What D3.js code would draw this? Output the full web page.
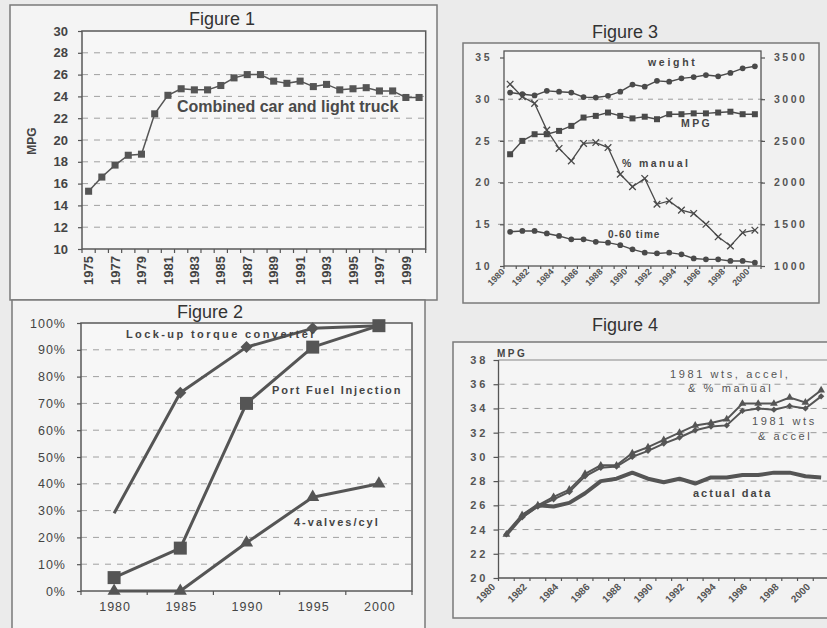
<!DOCTYPE html>
<html><head><meta charset="utf-8">
<script src="https://cdn.jsdelivr.net/npm/d3@7"></script>
<style>
html,body{margin:0;padding:0;background:#ebebeb;}
svg{display:block;}
</style></head><body>
<svg id="c" width="827" height="628"></svg>
<script>
// ================= DATA =================
// Figure 1
const fig1Years = [1975,1976,1977,1978,1979,1980,1981,1982,1983,1984,1985,1986,1987,1988,1989,1990,1991,1992,1993,1994,1995,1996,1997,1998,1999,2000];
const fig1Mpg = [15.3,16.6,17.7,18.6,18.7,22.4,24.1,24.7,24.6,24.6,25.0,25.7,26.0,26.0,25.4,25.2,25.4,24.9,25.1,24.6,24.7,24.8,24.5,24.5,23.9,23.9];
const fig1YTicks = [10,12,14,16,18,20,22,24,26,28,30];
const fig1XLabels = [1975,1977,1979,1981,1983,1985,1987,1989,1991,1993,1995,1997,1999];

// Figure 2
const fig2Years = ["1980","1985","1990","1995","2000"];
const fig2Lockup = [29,74,91,98,99];
const fig2PortFuel = [5,16,70,91,99];
const fig2Valves = [0,0,18,35,40];
const fig2YTicks = [0,10,20,30,40,50,60,70,80,90,100];

// Figure 3
const fig3Years = [1981,1982,1983,1984,1985,1986,1987,1988,1989,1990,1991,1992,1993,1994,1995,1996,1997,1998,1999,2000,2001];
const fig3Weight = [3080,3060,3045,3100,3090,3080,3025,3020,3040,3090,3175,3150,3220,3210,3250,3265,3290,3275,3315,3370,3395];
const fig3Mpg = [23.4,25.0,25.8,25.8,26.2,26.8,27.8,28.0,28.4,28.0,27.7,27.9,27.6,28.2,28.2,28.3,28.3,28.4,28.5,28.2,28.2];
const fig3Manual = [31.8,30.3,29.5,26.3,24.1,22.6,24.7,24.8,24.2,21.0,19.5,20.5,17.4,17.8,16.7,16.3,15.0,13.5,12.4,14.0,14.3];
const fig3Accel = [14.1,14.2,14.2,13.9,13.6,13.2,13.2,12.9,12.8,12.5,12.0,11.6,11.5,11.6,11.4,10.9,10.8,10.8,10.6,10.6,10.4];
const fig3LeftTicks = [10,15,20,25,30,35];
const fig3RightTicks = [1000,1500,2000,2500,3000,3500];
const fig3XLabels = [1980,1982,1984,1986,1988,1990,1992,1994,1996,1998,2000];

// Figure 4
const fig4Years = [1981,1982,1983,1984,1985,1986,1987,1988,1989,1990,1991,1992,1993,1994,1995,1996,1997,1998,1999,2000,2001];
const fig4Actual = [23.6,25.1,26.0,25.9,26.2,27.0,28.0,28.2,28.7,28.2,27.9,28.2,27.8,28.3,28.3,28.5,28.5,28.7,28.7,28.4,28.3];
const fig4AllThree = [23.6,25.2,26.0,26.7,27.3,28.6,29.3,29.3,30.3,30.8,31.4,32.0,32.6,32.8,33.1,34.4,34.4,34.4,34.9,34.5,35.5];
const fig4WtsAccel = [23.6,25.0,25.9,26.5,27.1,28.4,29.1,29.2,30.0,30.5,31.1,31.6,32.2,32.5,32.6,33.8,34.0,33.9,34.2,34.0,35.0];
const fig4YTicks = [20,22,24,26,28,30,32,34,36,38];
const fig4XLabels = [1980,1982,1984,1986,1988,1990,1992,1994,1996,1998,2000];

// ================= DRAWING =================
const FONT = '"Liberation Sans", Arial, Helvetica, sans-serif';
const svg = d3.select("#c").attr("font-family", FONT);
svg.append("rect").attr("width", 827).attr("height", 628).attr("fill", "#ebebeb");

function panel(x, y, w, h, fill) {
  return svg.append("rect").attr("x", x).attr("y", y).attr("width", w).attr("height", h)
    .attr("fill", fill).attr("stroke", "#7a7a7a").attr("stroke-width", 1.5);
}
function label(g, x, y, str, o) {
  o = o || {};
  const t = g.append("text").attr("x", x).attr("y", y).text(str)
    .attr("font-size", o.size || 12).attr("font-weight", o.weight || "normal")
    .attr("fill", o.fill || "#444").attr("text-anchor", o.anchor || "start");
  if (o.ls) t.attr("letter-spacing", o.ls);
  return t;
}
function styleAxis(a, size, weight, fill, ls) {
  a.attr("font-family", FONT).attr("font-size", size);
  a.select(".domain").remove();
  a.selectAll(".tick line").attr("stroke", "#555").attr("stroke-width", 1.2);
  const t = a.selectAll(".tick text").attr("fill", fill).attr("font-weight", weight);
  if (ls) t.attr("letter-spacing", ls);
}
function markers(g, vals, xf, yf, type, size, color) {
  const sym = d3.symbol().type(type).size(size);
  g.selectAll(null).data(vals).join("path")
    .attr("d", sym)
    .attr("transform", (d, i) => `translate(${xf(i)},${yf(d)})`)
    .attr("fill", color);
}
function diamonds(g, vals, xf, yf, size, color) {
  const sym = d3.symbol().type(d3.symbolSquare).size(size);
  g.selectAll(null).data(vals).join("path").attr("d", sym)
    .attr("transform", (d, i) => `translate(${xf(i)},${yf(d)}) rotate(45)`).attr("fill", color);
}
function crosses(g, vals, xf, yf, r, color) {
  g.selectAll(null).data(vals).join("path")
    .attr("d", (d, i) => {
      const x = xf(i), y = yf(d);
      return `M${x-r},${y-r}L${x+r},${y+r}M${x-r},${y+r}L${x+r},${y-r}`;
    }).attr("stroke", color).attr("stroke-width", 1.3).attr("fill", "none");
}
function bottomTicks(g, xs, y, len) {
  g.selectAll(null).data(xs).join("line").attr("x1", d => d).attr("x2", d => d)
    .attr("y1", y).attr("y2", y + len).attr("stroke", "#555").attr("stroke-width", 1.2);
}

// ---------- Figure 1 ----------
panel(10, 5, 427, 295, "#f4f4f4");
{
  const g = svg.append("g");
  const L = 82, R = 425.7, T = 31, B = 249;
  const x = d3.scaleBand().domain(fig1Years).range([L, R]);
  const y = d3.scaleLinear().domain([10, 30]).range([B, T]);
  const cx = i => x(fig1Years[i]) + x.bandwidth() / 2;
  g.append("rect").attr("x", L).attr("y", T).attr("width", R - L).attr("height", B - T).attr("fill", "#f7f7f7");
  g.selectAll(null).data(fig1YTicks.filter(t => t > 10 && t < 30)).join("line")
    .attr("x1", L).attr("x2", R).attr("y1", d => y(d)).attr("y2", d => y(d))
    .attr("stroke", "#a0a0a0").attr("stroke-width", 1).attr("stroke-dasharray", "6,6");
  g.append("rect").attr("x", L).attr("y", T).attr("width", R - L).attr("height", B - T)
    .attr("fill", "none").attr("stroke", "#5a5a5a").attr("stroke-width", 1.5);
  const ay = g.append("g").attr("transform", `translate(${L},0)`)
    .call(d3.axisLeft(y).tickValues(fig1YTicks).tickSize(4).tickPadding(10));
  styleAxis(ay, 13, "bold", "#444");
  bottomTicks(g, fig1Years.map(v => x(v)).concat([R]), B, 4);
  g.selectAll(null).data(fig1XLabels).join("text")
    .attr("transform", d => `translate(${x(d) + x.bandwidth() / 2},256) rotate(-90)`)
    .attr("dy", "0.36em").attr("text-anchor", "end").attr("font-size", 13).attr("font-weight", "bold")
    .attr("fill", "#444").text(d => d);
  label(g, 0, 0, "MPG", { size: 12, weight: "bold", anchor: "middle" })
    .attr("transform", "translate(36,141) rotate(-90)");
  label(g, 222, 25, "Figure 1", { size: 18, anchor: "middle", fill: "#333" });
  g.append("path").datum(fig1Mpg)
    .attr("d", d3.line().x((d, i) => cx(i)).y(d => y(d)))
    .attr("fill", "none").attr("stroke", "#555").attr("stroke-width", 1.5);
  markers(g, fig1Mpg, cx, y, d3.symbolSquare, 50, "#555");
  label(g, 177, 112, "Combined car and light truck", { size: 16, weight: "bold", fill: "#4a4a4a" });
}

// ---------- Figure 2 ----------
panel(12, 300, 413, 340, "#f3f3f3");
{
  const g = svg.append("g");
  const L = 81, R = 412, T = 323, B = 591;
  const x = d3.scaleBand().domain(fig2Years).range([L, R]);
  const y = d3.scaleLinear().domain([0, 100]).range([B, T]);
  const cx = i => x(fig2Years[i]) + x.bandwidth() / 2;
  g.append("rect").attr("x", L).attr("y", T).attr("width", R - L).attr("height", B - T).attr("fill", "#f7f7f7");
  g.selectAll(null).data(fig2YTicks.filter(t => t > 0 && t < 100)).join("line")
    .attr("x1", L).attr("x2", R).attr("y1", d => y(d)).attr("y2", d => y(d))
    .attr("stroke", "#a0a0a0").attr("stroke-width", 1).attr("stroke-dasharray", "6,6");
  g.append("rect").attr("x", L).attr("y", T).attr("width", R - L).attr("height", B - T)
    .attr("fill", "none").attr("stroke", "#5a5a5a").attr("stroke-width", 1.5);
  const ay = g.append("g").attr("transform", `translate(${L},0)`)
    .call(d3.axisLeft(y).tickValues(fig2YTicks).tickFormat(d => d + "%").tickSize(4).tickPadding(11));
  styleAxis(ay, 12.5, "normal", "#444", 1);
  bottomTicks(g, fig2Years.map(v => x(v)).concat([R]), B, 4);
  g.selectAll(null).data(fig2Years).join("text")
    .attr("x", d => x(d) + x.bandwidth() / 2 + 1).attr("y", 611)
    .attr("text-anchor", "middle").attr("font-size", 12.5).attr("letter-spacing", 1)
    .attr("fill", "#444").text(d => d);
  label(g, 210, 318, "Figure 2", { size: 18, anchor: "middle", fill: "#333" });
  const line = d3.line().x((d, i) => cx(i)).y(d => y(d));
  [fig2Lockup, fig2PortFuel, fig2Valves].forEach(s => {
    g.append("path").datum(s).attr("d", line).attr("fill", "none")
      .attr("stroke", "#555").attr("stroke-width", 3).attr("stroke-linejoin", "round");
  });
  diamonds(g.append("g"), fig2Lockup.slice(1), i => cx(i + 1), y, 72, "#555");
  markers(g.append("g"), fig2PortFuel, cx, y, d3.symbolSquare, 169, "#555");
  markers(g.append("g"), fig2Valves, cx, y, d3.symbolTriangle, 75, "#555");
  label(g, 126, 338, "Lock-up torque converter", { size: 11, weight: "bold", ls: 2.4, fill: "#444" });
  label(g, 272, 394, "Port Fuel Injection", { size: 11, weight: "bold", ls: 1.8, fill: "#444" });
  label(g, 294, 526, "4-valves/cyl", { size: 11, weight: "bold", ls: 2, fill: "#444" });
}

// ---------- Figure 3 ----------
panel(463, 43, 356, 260, "#f1f1f1");
{
  const g = svg.append("g");
  const L = 504, R = 761, T = 51, B = 266;
  const x = d3.scaleBand().domain(fig3Years).range([L, R]);
  const yL = d3.scaleLinear().domain([10, 35]).range([B, 57.5]);
  const yR = d3.scaleLinear().domain([1000, 3500]).range([B, 57.5]);
  const cx = i => x(fig3Years[i]) + x.bandwidth() / 2;
  label(g, 625, 38, "Figure 3", { size: 18, anchor: "middle", fill: "#333" });
  g.append("rect").attr("x", L).attr("y", T).attr("width", R - L).attr("height", B - T).attr("fill", "#f5f5f5");
  g.selectAll(null).data([15, 20, 25, 30]).join("line")
    .attr("x1", L - 6).attr("x2", R + 7).attr("y1", d => yL(d)).attr("y2", d => yL(d))
    .attr("stroke", "#9a9a9a").attr("stroke-width", 1).attr("stroke-dasharray", "5,5");
  g.append("rect").attr("x", L).attr("y", T).attr("width", R - L).attr("height", B - T)
    .attr("fill", "none").attr("stroke", "#555").attr("stroke-width", 1.3);
  const ayl = g.append("g").attr("transform", `translate(${L},0)`)
    .call(d3.axisLeft(yL).tickValues(fig3LeftTicks).tickSize(4).tickPadding(8));
  styleAxis(ayl, 10.5, "bold", "#555", 2.5);
  const ayr = g.append("g").attr("transform", `translate(${R},0)`)
    .call(d3.axisRight(yR).tickValues(fig3RightTicks).tickFormat(d3.format("d")).tickSize(4).tickPadding(9));
  styleAxis(ayr, 10.5, "bold", "#555", 2.5);
  bottomTicks(g, fig3Years.map(v => x(v)).concat([R]), B, 3);
  g.selectAll(null).data(fig3XLabels).join("text")
    .attr("transform", d => `translate(${x(d + 1) - 1},270) rotate(-45)`)
    .attr("dy", "0.36em").attr("text-anchor", "end").attr("font-size", 9).attr("font-weight", "bold")
    .attr("fill", "#555").text(d => d);
  const lineL = d3.line().x((d, i) => cx(i)).y(d => yL(d));
  const lineR = d3.line().x((d, i) => cx(i)).y(d => yR(d));
  g.append("path").datum(fig3Weight).attr("d", lineR).attr("fill", "none").attr("stroke", "#4a4a4a").attr("stroke-width", 1.4);
  g.append("path").datum(fig3Mpg).attr("d", lineL).attr("fill", "none").attr("stroke", "#4a4a4a").attr("stroke-width", 1.4);
  g.append("path").datum(fig3Manual).attr("d", lineL).attr("fill", "none").attr("stroke", "#4a4a4a").attr("stroke-width", 1.3);
  g.append("path").datum(fig3Accel).attr("d", lineL).attr("fill", "none").attr("stroke", "#4a4a4a").attr("stroke-width", 1.4);
  markers(g.append("g"), fig3Weight, cx, yR, d3.symbolCircle, 26, "#4a4a4a");
  markers(g.append("g"), fig3Mpg, cx, yL, d3.symbolSquare, 36, "#4a4a4a");
  crosses(g.append("g"), fig3Manual, cx, yL, 3.3, "#4a4a4a");
  markers(g.append("g"), fig3Accel, cx, yL, d3.symbolCircle, 26, "#4a4a4a");
  label(g, 648, 66, "weight", { size: 10.5, weight: "bold", ls: 2.7, fill: "#444" });
  label(g, 681, 127, "MPG", { size: 10.5, weight: "bold", ls: 2.4, fill: "#444" });
  label(g, 622, 167, "% manual", { size: 10.5, weight: "bold", ls: 2.4, fill: "#444" });
  label(g, 608, 238, "0-60 time", { size: 10, weight: "bold", ls: 1, fill: "#444" });
}

// ---------- Figure 4 ----------
panel(453, 342, 390, 276, "#f2f2f2");
{
  const g = svg.append("g");
  const L = 498.5, R = 829, T = 360, B = 578;
  const x = d3.scaleBand().domain(fig4Years).range([L, R]);
  const y = d3.scaleLinear().domain([20, 38]).range([B, T]);
  const cx = i => x(fig4Years[i]) + x.bandwidth() / 2;
  label(g, 625, 331, "Figure 4", { size: 18, anchor: "middle", fill: "#333" });
  g.append("rect").attr("x", L).attr("y", T).attr("width", R - L).attr("height", B - T).attr("fill", "#f5f5f5");
  g.selectAll(null).data(fig4YTicks.filter(t => t > 20 && t < 38)).join("line")
    .attr("x1", L).attr("x2", R).attr("y1", d => y(d)).attr("y2", d => y(d))
    .attr("stroke", "#9a9a9a").attr("stroke-width", 1).attr("stroke-dasharray", "6,6");
  g.append("line").attr("x1", L).attr("x2", R).attr("y1", T).attr("y2", T).attr("stroke", "#888").attr("stroke-width", 1);
  g.append("line").attr("x1", L).attr("x2", L).attr("y1", T).attr("y2", B).attr("stroke", "#555").attr("stroke-width", 1.3);
  g.append("line").attr("x1", L).attr("x2", R).attr("y1", B).attr("y2", B).attr("stroke", "#555").attr("stroke-width", 1.3);
  const ay = g.append("g").attr("transform", `translate(${L},0)`)
    .call(d3.axisLeft(y).tickValues(fig4YTicks).tickSize(5).tickPadding(5));
  styleAxis(ay, 11, "bold", "#555", 3);
  bottomTicks(g, fig4Years.map(v => x(v)), B, 3);
  g.selectAll(null).data(fig4XLabels).join("text")
    .attr("transform", d => `translate(${x(d + 1) - 5},585) rotate(-45)`)
    .attr("dy", "0.36em").attr("text-anchor", "end").attr("font-size", 10).attr("font-weight", "bold")
    .attr("fill", "#555").text(d => d);
  label(g, 497, 357, "MPG", { size: 10, weight: "bold", ls: 2.5, fill: "#444" });
  const line = d3.line().x((d, i) => cx(i)).y(d => y(d));
  g.append("path").datum(fig4AllThree).attr("d", line).attr("fill", "none").attr("stroke", "#555").attr("stroke-width", 2);
  g.append("path").datum(fig4WtsAccel).attr("d", line).attr("fill", "none").attr("stroke", "#555").attr("stroke-width", 2);
  markers(g.append("g"), fig4AllThree, cx, y, d3.symbolTriangle, 26, "#555");
  diamonds(g.append("g"), fig4WtsAccel, cx, y, 20, "#555");
  g.append("path").datum(fig4Actual).attr("d", line).attr("fill", "none").attr("stroke", "#555")
    .attr("stroke-width", 4).attr("stroke-linejoin", "round");
  label(g, 670, 378, "1981 wts, accel,", { size: 11, ls: 2.6, fill: "#555" });
  label(g, 688, 392, "& % manual", { size: 11, ls: 2.6, fill: "#555" });
  label(g, 752, 425, "1981 wts", { size: 11, ls: 2.6, fill: "#555" });
  label(g, 758, 440, "& accel", { size: 11, ls: 2.6, fill: "#555" });
  label(g, 693, 497, "actual data", { size: 11, weight: "bold", ls: 2, fill: "#444" });
}
</script>
</body></html>
